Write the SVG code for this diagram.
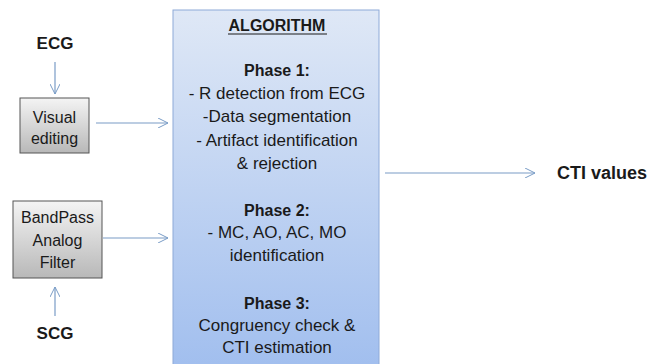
<svg xmlns="http://www.w3.org/2000/svg" width="649" height="364" viewBox="0 0 649 364">
<defs>
<linearGradient id="gBlue" x1="0" y1="0" x2="0" y2="1">
<stop offset="0" stop-color="#dfe8f6"/>
<stop offset="1" stop-color="#9fbdee"/>
</linearGradient>
<linearGradient id="gGray" x1="0" y1="0" x2="0" y2="1">
<stop offset="0" stop-color="#f4f4f4"/>
<stop offset="1" stop-color="#b8b8b8"/>
</linearGradient>
<marker id="arr" viewBox="0 0 10 10" refX="10" refY="5" markerWidth="10" markerHeight="10" markerUnits="userSpaceOnUse" orient="auto">
<path d="M0,0 L10,5 L0,10" fill="none" stroke="#7a9cc6" stroke-width="1"/>
</marker>
</defs>
<style>
text{font-family:"Liberation Sans","Open Sans",sans-serif;fill:#1a1a1a;text-anchor:middle;dominant-baseline:central}
.b{font-weight:bold}
.lbl{font-size:17px}
.t{font-size:16px}
.m{font-size:17px}
.h{font-size:16px;font-weight:bold}
.c{stroke:#7a9cc6;stroke-width:1.2;fill:none;marker-end:url(#arr)}
</style>
<rect width="649" height="364" fill="#ffffff"/>
<g id="connectors">
<line class="c" x1="55" y1="62" x2="55" y2="94"/>
<line class="c" x1="96" y1="123" x2="168" y2="123"/>
<line class="c" x1="103" y1="238" x2="168" y2="238"/>
<line class="c" x1="55" y1="316" x2="55" y2="287"/>
<line class="c" x1="385" y1="173" x2="535" y2="173"/>
</g>
<g id="ecg"><text class="lbl b" x="55" y="43">ECG</text></g>
<g id="scg"><text class="lbl b" x="55" y="333">SCG</text></g>
<g id="visual">
<rect x="20" y="98" width="69" height="55" fill="url(#gGray)" stroke="#555" stroke-width="1"/>
<text class="t" x="54.5" y="117">Visual</text>
<text class="t" x="54.5" y="138">editing</text>
</g>
<g id="bandpass">
<rect x="13" y="201" width="89" height="77" fill="url(#gGray)" stroke="#555" stroke-width="1"/>
<text class="t" x="57.5" y="217">BandPass</text>
<text class="t" x="57.5" y="240">Analog</text>
<text class="t" x="57.5" y="262">Filter</text>
</g>
<g id="algorithm">
<rect x="173" y="10" width="206" height="370" fill="url(#gBlue)" stroke="#8eaad8" stroke-width="1"/>
<text class="h" x="277" y="25">ALGORITHM</text>
<line x1="228" y1="34" x2="327" y2="34" stroke="#1a1a1a" stroke-width="1.2"/>
<text class="h" x="277" y="70">Phase 1:</text>
<text class="m" x="277" y="93">- R detection from ECG</text>
<text class="m" x="277" y="116">-Data segmentation</text>
<text class="m" x="277" y="140">- Artifact identification</text>
<text class="m" x="277" y="163">&amp; rejection</text>
<text class="h" x="277" y="210">Phase 2:</text>
<text class="m" x="277" y="232">- MC, AO, AC, MO</text>
<text class="m" x="277" y="255">identification</text>
<text class="h" x="277" y="303">Phase 3:</text>
<text class="m" x="277" y="325">Congruency check &amp;</text>
<text class="m" x="277" y="347">CTI estimation</text>
</g>
<g id="cti"><text class="b" x="557" y="173" style="text-anchor:start;font-size:18px">CTI values</text></g>
</svg>
